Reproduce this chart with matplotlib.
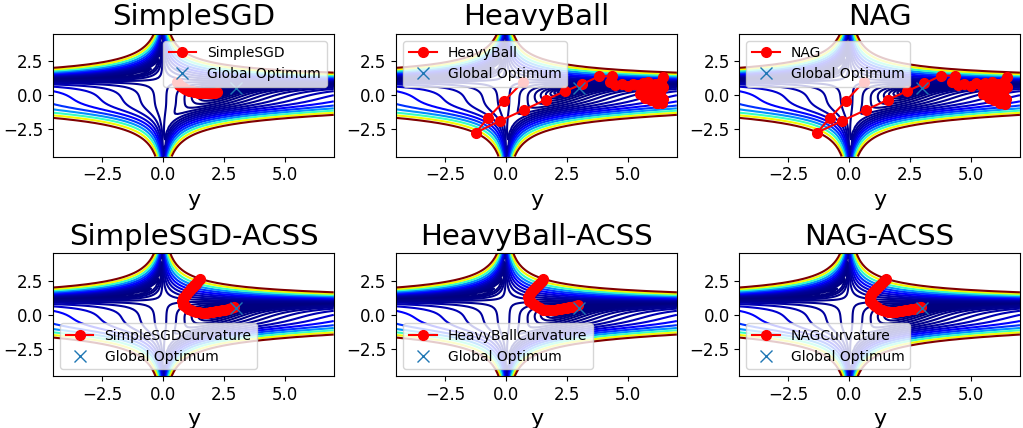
import numpy as np
import matplotlib
matplotlib.use("Agg")
import matplotlib.pyplot as plt

titles = ["SimpleSGD", "HeavyBall", "NAG", "SimpleSGD-ACSS", "HeavyBall-ACSS", "NAG-ACSS"]
labels = ["SimpleSGD", "HeavyBall", "NAG", "SimpleSGDCurvature", "HeavyBallCurvature", "NAGCurvature"]
legend_locs = ["upper right", "upper left", "upper left", "lower left", "lower left", "lower left"]
optimum = [3.0, 0.5]

# paths
sgd_x = [0.58, 0.62, 0.67, 0.72, 0.78, 0.85, 0.92, 1.0, 1.08, 1.17, 1.26, 1.35, 1.45,
         1.55, 1.65, 1.75, 1.85, 1.95, 2.05, 2.15, 2.22]
sgd_y = [0.97, 0.86, 0.76, 0.67, 0.58, 0.5, 0.43, 0.37, 0.32, 0.27, 0.23, 0.2, 0.17,
         0.15, 0.14, 0.13, 0.13, 0.14, 0.16, 0.18, 0.2]

hb_x = [0.68, -0.07, -0.75, -1.23, -0.25, 0.75, 1.62, 2.43, 3.13, 3.81, 4.33, 4.26, 4.47,
        4.75, 5.01, 5.2, 5.42, 5.6, 5.7, 5.85, 5.97, 6.1, 6.17, 6.31, 6.38, 6.45, 6.35,
        6.1, 5.83, 6.0, 6.25, 6.42, 6.4, 6.2, 5.95, 5.7, 5.5, 5.8, 6.1, 6.35, 6.45, 6.3]
hb_y = [0.94, -0.41, -1.68, -2.74, -1.88, -1.07, -0.34, 0.3, 0.82, 1.38, 1.38, 0.95, 0.75,
        0.8, 0.65, 0.85, 0.72, 0.9, 0.35, 0.55, -0.1, 0.3, -0.6, -0.2, 0.55, 1.3, 0.9,
        0.82, 0.94, 0.6, 0.2, -0.3, -0.6, -0.55, -0.35, -0.2, 0.1, 0.45, 0.75, 1.0, 0.6, 0.1]

nag_x = [0.6, -0.12, -0.8, -1.31, -0.29, 0.7, 1.58, 2.38, 3.08, 3.77, 4.32, 4.22, 4.45,
         4.7, 4.98, 5.18, 5.4, 5.58, 5.7, 5.84, 5.95, 6.08, 6.17, 6.3, 6.38, 6.45, 6.35,
         6.1, 5.85, 6.0, 6.25, 6.42, 6.4, 6.2, 5.95, 5.72, 5.5, 5.8, 6.1, 6.35, 6.45, 6.3]
nag_y = [0.99, -0.41, -1.68, -2.74, -1.88, -1.07, -0.34, 0.3, 0.86, 1.43, 1.43, 0.95, 0.78,
         0.82, 0.66, 0.86, 0.72, 0.9, 0.38, 0.56, -0.08, 0.32, -0.6, -0.18, 0.55, 1.3, 0.92,
         0.82, 0.94, 0.62, 0.2, -0.3, -0.62, -0.55, -0.35, -0.2, 0.1, 0.45, 0.75, 1.0, 0.62, 0.1]

sgdc_x = [1.5, 1.45, 1.4, 1.34, 1.28, 1.22, 1.16, 1.1, 1.04, 0.98, 0.93, 0.88, 0.84, 0.81,
          0.8, 0.81, 0.84, 0.89, 0.96, 1.04, 1.13, 1.23, 1.34, 1.46, 1.58, 1.7, 1.82, 1.94,
          2.06, 2.18, 2.3, 2.42, 2.54, 2.66, 2.78, 2.9]
sgdc_y = [2.6, 2.5, 2.4, 2.29, 2.18, 2.06, 1.94, 1.82, 1.7, 1.58, 1.46, 1.34, 1.22, 1.1,
          0.98, 0.86, 0.75, 0.64, 0.54, 0.45, 0.37, 0.3, 0.24, 0.19, 0.16, 0.15, 0.16, 0.18,
          0.21, 0.25, 0.29, 0.34, 0.39, 0.44, 0.5, 0.55]

hbc_x = [1.53, 1.46, 1.39, 1.32, 1.25, 1.18, 1.11, 1.04, 0.98, 0.93, 0.91, 0.92, 0.96, 1.02,
         1.1, 1.19, 1.29, 1.4, 1.52, 1.64, 1.76, 1.88, 2.0, 2.12, 2.24, 2.36, 2.48, 2.6,
         2.72, 2.84, 2.96]
hbc_y = [2.65, 2.5, 2.36, 2.22, 2.08, 1.94, 1.8, 1.66, 1.53, 1.41, 1.29, 1.17, 1.05, 0.93,
         0.81, 0.69, 0.58, 0.47, 0.38, 0.33, 0.32, 0.34, 0.37, 0.4, 0.44, 0.48, 0.52, 0.56,
         0.6, 0.65, 0.69]

nagc_x = [1.52, 1.45, 1.38, 1.31, 1.24, 1.16, 1.08, 1.0, 0.93, 0.88, 0.85, 0.84, 0.86, 0.9,
          0.96, 1.04, 1.13, 1.23, 1.34, 1.46, 1.58, 1.7, 1.82, 1.94, 2.06, 2.18, 2.3, 2.42,
          2.54, 2.66, 2.78, 2.9, 2.95]
nagc_y = [2.65, 2.52, 2.39, 2.26, 2.13, 2.0, 1.86, 1.72, 1.58, 1.44, 1.3, 1.17, 1.04, 0.91,
          0.79, 0.67, 0.56, 0.46, 0.37, 0.29, 0.23, 0.2, 0.2, 0.22, 0.25, 0.28, 0.32, 0.36,
          0.4, 0.44, 0.49, 0.54, 0.56]

paths = [(sgd_x, sgd_y), (hb_x, hb_y), (nag_x, nag_y),
         (sgdc_x, sgdc_y), (hbc_x, hbc_y), (nagc_x, nagc_y)]

# beale surface
xs = np.arange(-4.5, 7.05, 0.1)
ys = np.arange(-4.5, 4.55, 0.1)
X, Y = np.meshgrid(xs, ys)
Z = (1.5 - X + X * Y) ** 2 + (2.25 - X + X * Y ** 2) ** 2 + (2.625 - X + X * Y ** 3) ** 2

fig, axs = plt.subplots(2, 3, figsize=(10.23, 4.28), dpi=100)
plt.subplots_adjust(left=0.052, right=0.997, top=0.921, bottom=0.121, wspace=0.223, hspace=0.79)

for i, ax in enumerate(axs.flat):
    ax.contour(X, Y, Z, levels=np.logspace(-1, 3, 22), cmap="jet")
    px, py = paths[i]
    ax.plot(px, py, color="red", marker="o", markersize=7, label=labels[i])
    ax.plot(optimum[0], optimum[1], "x", markersize=8, label="Global Optimum")
    ax.set_title(titles[i], fontsize=21)
    ax.set_xlabel("y", fontsize=16)
    ax.tick_params(labelsize=12)
    ax.set_xlim(-4.5, 7)
    ax.set_ylim(-4.5, 4.5)
    ax.legend(loc=legend_locs[i], fontsize=10)

plt.savefig("out.png")
